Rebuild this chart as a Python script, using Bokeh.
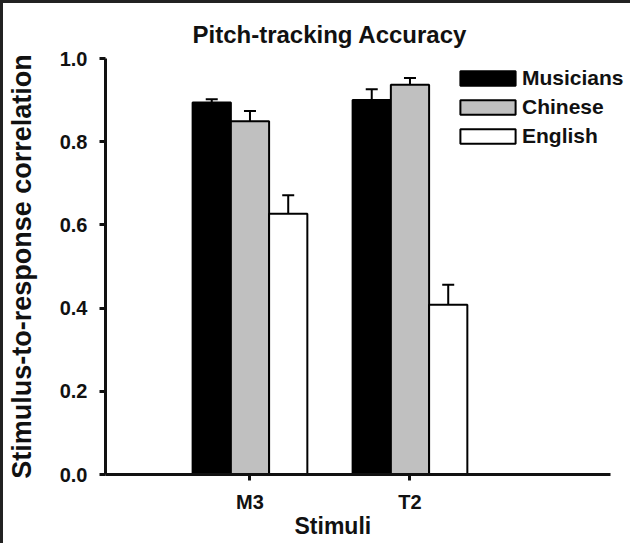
from bokeh.plotting import figure
from bokeh.models import (ColumnDataSource, Whisker, TeeHead, FixedTicker, Legend,
                          LegendItem, Title, NumeralTickFormatter)
from bokeh.embed import file_html
from bokeh.resources import INLINE

# ---- data ----
stimuli = ["M3", "T2"]
groups = ["Musicians", "Chinese", "English"]
musicians = [0.894, 0.900]
musicians_err = [0.008, 0.026]
chinese = [0.849, 0.937]
chinese_err = [0.025, 0.016]
english = [0.627, 0.408]
english_err = [0.044, 0.048]
y_ticks = [0.0, 0.2, 0.4, 0.6, 0.8, 1.0]

FONT = "Liberation Sans"
INK = "#111111"
BAR_W = 0.239
x_pos = [1, 2]
X_AXIS_SPAN = (0.097, 3.253)

p = figure(width=630, height=543, output_backend="svg", toolbar_location=None,
           x_range=(0.097, 3.397), y_range=(0, 1.0),
           min_border_left=102, min_border_right=0,
           min_border_top=55, min_border_bottom=72,
           styles={"border-top": "3px solid #222222", "border-left": "3px solid #222222"})

fills = ["#000000", "#c0c0c0", "#ffffff"]
series = [musicians, chinese, english]
errors = [musicians_err, chinese_err, english_err]
offsets = [-BAR_W, 0.0, BAR_W]

items = []
for name, vals, errs, fill, off in zip(groups, series, errors, fills, offsets):
    src = ColumnDataSource(dict(
        x=[xp + off for xp in x_pos],
        top=vals,
        upper=[v + e for v, e in zip(vals, errs)],
    ))
    r = p.vbar(x="x", top="top", bottom=0, width=BAR_W, source=src,
               fill_color=fill, line_color="#000000", line_width=2)
    w = Whisker(source=src, base="x", lower="top", upper="upper", dimension="height",
                line_color="#000000", line_width=2, level="overlay",
                upper_head=TeeHead(size=12, line_width=2, line_color="#000000"),
                lower_head=None)
    p.add_layout(w)
    items.append(LegendItem(label=name, renderers=[r]))

legend = Legend(items=items, location=(348, 326), orientation="vertical",
                glyph_width=69, glyph_height=18, label_height=18,
                label_standoff=0, spacing=5, padding=0, margin=0,
                border_line_alpha=0, background_fill_alpha=0,
                label_text_font=FONT, label_text_font_style="bold",
                label_text_font_size="21px", label_text_color=INK)
p.add_layout(legend, "center")

# axes
p.xaxis.ticker = FixedTicker(ticks=x_pos)
p.xaxis.major_label_overrides = {xp: s for xp, s in zip(x_pos, stimuli)}
p.xaxis.bounds = X_AXIS_SPAN
p.yaxis.ticker = FixedTicker(ticks=y_ticks)
p.yaxis.formatter = NumeralTickFormatter(format="0.0")

for ax in (p.xaxis[0], p.yaxis[0]):
    ax.axis_line_width = 3
    ax.axis_line_color = INK
    ax.major_tick_line_width = 3
    ax.major_tick_line_color = INK
    ax.major_tick_out = 6
    ax.major_tick_in = 0
    ax.minor_tick_line_color = None
    ax.major_label_text_font = FONT
    ax.major_label_text_font_style = "bold"
    ax.major_label_text_font_size = "20px"
    ax.major_label_text_color = INK

p.xaxis.major_label_standoff = 10
p.yaxis.major_label_standoff = 12

p.yaxis.axis_label = "Stimulus-to-response correlation"
p.yaxis.axis_label_text_font = FONT
p.yaxis.axis_label_text_font_style = "bold"
p.yaxis.axis_label_text_font_size = "27px"
p.yaxis.axis_label_text_color = INK
p.yaxis.axis_label_standoff = 20

p.add_layout(Title(text="Stimuli", align="left", offset=189, standoff=-10,
                   text_font=FONT, text_font_style="bold", text_font_size="23px",
                   text_color=INK), "below")

p.title.text = "Pitch-tracking Accuracy"
p.title.align = "left"
p.title.vertical_align = "bottom"
p.title.offset = 87
p.title.standoff = 21
p.title.text_font = FONT
p.title.text_font_style = "bold"
p.title.text_font_size = "24px"
p.title.text_color = INK

p.xgrid.visible = False
p.ygrid.visible = False
p.outline_line_color = None
p.background_fill_color = "#ffffff"
p.border_fill_color = "#ffffff"

open("out.html", "w").write(file_html(p, INLINE))
